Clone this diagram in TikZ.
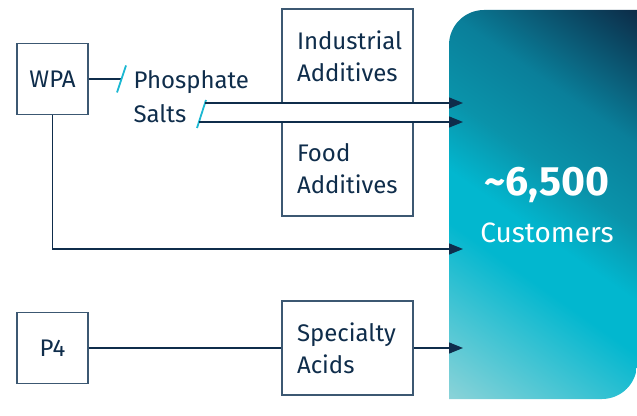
\documentclass[tikz,border=0pt]{standalone}
\usepackage{fontspec}
\setmainfont{Fira Sans}
\usetikzlibrary{arrows.meta}
\definecolor{navy}{HTML}{0F2D4B}
\definecolor{boxline}{HTML}{3C5872}
\definecolor{slashcyan}{HTML}{1CB8D2}
\definecolor{custdark}{HTML}{0C2B47}
\definecolor{custdeep}{HTML}{0A7F9A}
\definecolor{custteal}{HTML}{0A93AA}
\definecolor{custcyan}{HTML}{02B7CF}
\definecolor{custlight}{HTML}{8CD3D8}
\pgfdeclareverticalshading{custshade}{100bp}{color(0bp)=(custlight); color(25bp)=(custlight); color(42bp)=(custcyan); color(47bp)=(custcyan); color(54bp)=(custteal); color(62bp)=(custdeep); color(75bp)=(custdark); color(100bp)=(custdark)}
\tikzset{
 srcbox/.style={draw=boxline, line width=1.2pt, minimum width=71pt, minimum height=71pt, text=navy, font=\fontsize{24}{28}\selectfont},
 prodbox/.style={draw=boxline, line width=1.2pt, minimum width=131pt, minimum height=94pt, text width=101pt, inner xsep=15pt, align=left, text=navy, font=\fontsize{24}{32}\selectfont},
 flow/.style={draw=navy, line width=1.2pt},
 into/.style={flow, -{Triangle[length=14pt,width=11pt]}},
 cut/.style={draw=slashcyan, line width=1.8pt},
}

\begin{document}
\begin{tikzpicture}[x=1pt,y=1pt]
        \useasboundingbox (0,0) rectangle (637,415);
        \begin{scope}
            \clip (449,16) -- (449,370) arc[start angle=180, end angle=90, radius=35] -- (637,405) -- (637,51) arc[start angle=0, end angle=-90, radius=35] -- cycle;
            \shade[shading=custshade, transform canvas={rotate around={-35:(543,210.5)}}] (353,-3.5) rectangle (733,424.5);
        \end{scope}
        \node[text=white, font=\bfseries\fontsize{41}{44}\selectfont] (num) at (547,230) {\textasciitilde6,500};
        \node[text=white, font=\fontsize{28}{32}\selectfont] (cust) at (547,182) {Customers};

        \node[srcbox] (wpa) at (52.5,336) {WPA};
        \node[srcbox] (p4) at (52.5,67) {P4};
        \node[prodbox] (ind) at (347.5,359) {Industrial\\Additives};
        \node[prodbox] (food) at (347.5,246) {Food\\Additives};
        \node[prodbox] (spec) at (347.5,67) {Specialty\\Acids};
        \node[text=navy, align=left, anchor=west, font=\fontsize{24}{34}\selectfont] (salts) at (130,318) {Phosphate\\Salts};

        \coordinate (cut1) at (121.5,336);
        \coordinate (cut2) at (201.5,301);
        \coordinate (s1) at (205,312);
        \coordinate (s2) at (199,293);
        \coordinate (c1) at (463,312);
        \coordinate (c2) at (463,293);
        \coordinate (c3) at (463,166);
        \coordinate (c4) at (463,67);

        \draw[flow] (wpa.east) -- (cut1);
        \draw[cut] (cut1) ++(-4.5,-13.5) -- ++(9,27);
        \draw[cut] (cut2) ++(-4.5,-14) -- ++(9,28);
        \draw[into] (s1) -- (c1);
        \draw[into] (s2) -- (c2);
        \draw[into] (wpa.south) |- (c3);
        \draw[flow] (p4.east) -- (spec.west);
        \draw[into] (spec.east) -- (c4);
    \end{tikzpicture}
\end{document}
